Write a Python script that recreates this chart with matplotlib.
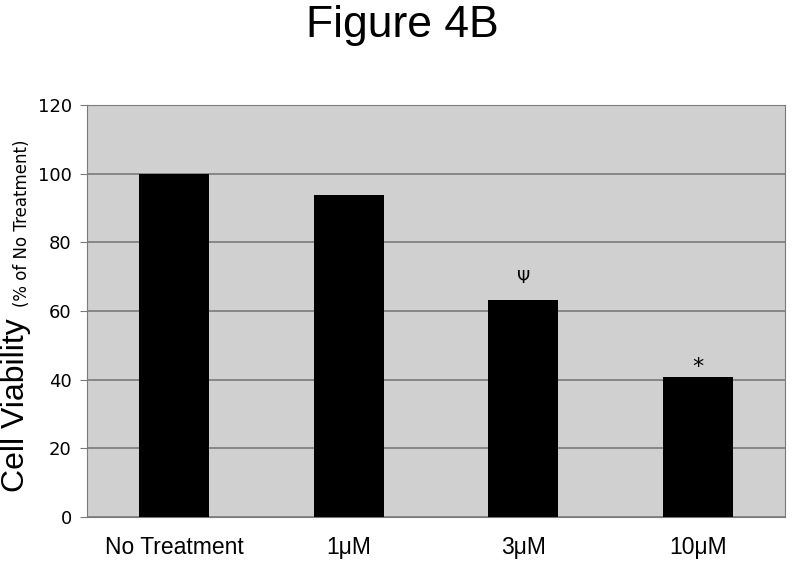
import matplotlib.pyplot as plt
import numpy as np

categories = ['No Treatment', '1μM', '3μM', '10μM']
viability = [100, 93.9, 63.3, 40.8]
marks = ['', '', 'Ψ', '*']
y_ticks = [0, 20, 40, 60, 80, 100, 120]

fig = plt.figure(figsize=(8, 5.63), dpi=100)
ax = fig.add_axes([87 / 800, 1 - 517 / 563, 698 / 800, 412 / 563])
ax.set_facecolor('#d0d0d0')

x = np.arange(len(categories))
ax.bar(x, viability, width=0.4, color='black', zorder=3)
ax.set_xlim(-0.5, len(categories) - 0.5)
ax.set_ylim(0, 120)
ax.set_yticks(y_ticks)
ax.yaxis.grid(True, color='#7a7a7a', linewidth=1.2, zorder=1)
ax.set_axisbelow(True)

# significance marks above the bars
for i, (v, m) in enumerate(zip(viability, marks)):
    if m == 'Ψ':
        ax.text(i, v + 6.4, m, ha='center', va='center', fontsize=12, family='DejaVu Sans')
    elif m:
        ax.text(i, v + 3.0, m, ha='center', va='center', fontsize=16, family='DejaVu Sans')

ax.set_xticks(x)
ax.set_xticklabels(categories, family='Liberation Sans', fontsize=16.5)
ax.tick_params(axis='x', length=0, pad=14)
ax.tick_params(axis='y', length=5, color='#7a7a7a', labelsize=13, pad=6)
for s in ax.spines.values():
    s.set_color('#7a7a7a')

fig.text(0.503, 1 - 26 / 563, 'Figure 4B', ha='center', va='center',
         family='Liberation Sans', fontsize=32)
fig.text(31 / 800, 1 - 492 / 563, 'Cell Viability', rotation=90, ha='right', va='bottom',
         family='Liberation Sans', fontsize=23)
fig.text(31 / 800, 1 - 307 / 563, '(% of No Treatment)', rotation=90, ha='right', va='bottom',
         family='DejaVu Sans', fontsize=12)

fig.savefig('out.png', dpi=100)
